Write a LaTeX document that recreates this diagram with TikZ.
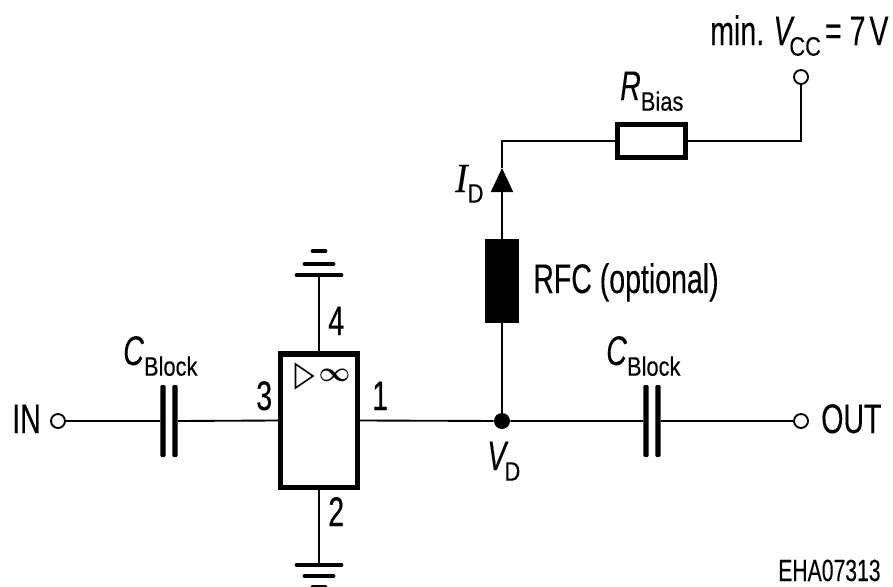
\documentclass[tikz,border=0pt]{standalone}
\usepackage{fontspec}
\usepackage{amsmath}
\usetikzlibrary{arrows.meta}
\setmainfont[FakeStretch=0.69,FakeBold=0.25]{Liberation Sans}
\newfontfamily\serifI[FakeStretch=0.9,FakeBold=0.25]{Liberation Serif}
\newfontfamily\subfam[FakeStretch=0.82,FakeBold=0.25]{Liberation Sans}
\newcommand{\dropped}[1]{\raisebox{-8pt}{\subfam\fontsize{20}{21}\selectfont #1}}
\tikzset{
    wire/.style={line width=1.4pt},
    lbl/.style={anchor=base west,inner sep=0pt,font=\fontsize{31}{33}\selectfont},
    port/.style={circle,draw,fill=white,line width=1.4pt,inner sep=0pt,minimum size=10.5pt},
    plate/.style={fill,rounded corners=1pt,inner sep=0pt,minimum width=4pt,minimum height=54pt},
    bar/.style={line width=3.6pt,line cap=round}
}
\begin{document}
\begin{tikzpicture}[x=0.75pt,y=-0.75pt]
            \clip (0,0) rectangle (893,586);
            \node (in) at (58,421) [port] {};
            \node (c1a) at (163,421) [plate] {};
            \node (c1b) at (175,421) [plate] {};
            \node (amp) at (319,420.5) [rectangle,draw,line width=4pt,inner sep=0pt,minimum width=57.5pt,minimum height=100pt] {};
            \node (vd) at (502,421) [circle,fill,inner sep=0pt,minimum size=12pt] {};
            \node (c2a) at (646,421) [plate] {};
            \node (c2b) at (658,421) [plate] {};
            \node (out) at (801,421) [port] {};
            \node (rfc) at (502,281) [rectangle,fill,inner sep=0pt,minimum width=26pt,minimum height=63pt] {};
            \node (rbias) at (651.5,141) [rectangle,draw,line width=4pt,inner sep=0pt,minimum width=51pt,minimum height=24.5pt] {};
            \node (vcc) at (801,77) [port] {};
            \coordinate (tip) at (502,168);
            \coordinate (gndtop) at (319,275);
            \coordinate (gndbot) at (319,565);
            \draw[wire] (in) -- (c1a) (c1b) -- (amp.west) (amp.east) -- (vd) -- (c2a) (c2b) -- (out);
            \draw[wire] (vd) -- (rfc.south);
            \draw[wire,-{Triangle[width=16.5pt,length=18pt]}] (rfc.north) -- (tip);
            \draw[wire] (tip) |- (rbias.west) (rbias.east) -| (vcc.south);
            \draw[wire] (amp.north) -- (gndtop) (amp.south) -- (gndbot);
            \draw[bar] (297,275) -- (341,275) (305,264) -- (333,264) (313,251) -- (325,251);
            \draw[bar] (297,565) -- (341,565) (305,576) -- (333,576) (313,587) -- (325,587);
            \draw[line width=1.2pt] (295.5,364) -- (295.5,388) -- (313,376) -- cycle;
            \node (inf) at (334.5,375) [inner sep=0pt,font=\fontsize{21}{23}\selectfont] {$\boldsymbol{\infty}$};
            \node (inlbl) at (12,433) [lbl] {IN};
            \node (outlbl) at (821,433) [lbl] {OUT};
            \node (vcclbl) at (710,45) [lbl] {min.\hspace{7pt}\textit{V}\kern-4pt\dropped{CC}\hspace{3pt}=\hspace{6pt}7\hspace{3pt}V};
            \node (rlbl) at (620,100) [lbl] {\textit{R}\dropped{Bias}};
            \node (ilbl) at (455,192) [lbl] {{\serifI\itshape I}\dropped{D}};
            \node (rfclbl) at (533,293) [lbl] {RFC (optional)};
            \node (c1lbl) at (123,365) [lbl] {\textit{C}\dropped{Block}};
            \node (c2lbl) at (606,365) [lbl] {\textit{C}\dropped{Block}};
            \node (vdlbl) at (487,470) [lbl] {\textit{V}\kern-3pt\dropped{D}};
            \node (pin4) at (328,335) [lbl] {4};
            \node (pin3) at (256,410) [lbl] {3};
            \node (pin1) at (372,410) [lbl] {1};
            \node (pin2) at (328,526) [lbl] {2};
            \node (code) at (778,581) [lbl,font=\fontsize{23}{25}\selectfont] {EHA07313};
        \end{tikzpicture}
\end{document}
